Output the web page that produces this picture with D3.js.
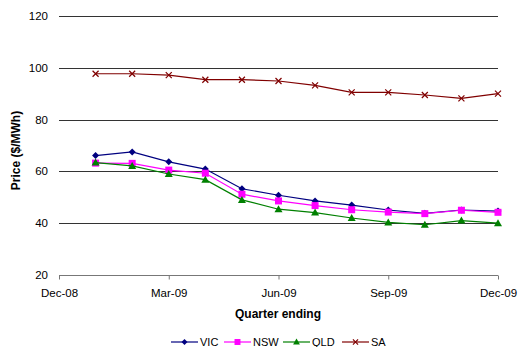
<!DOCTYPE html>
<html>
<head>
<meta charset="utf-8">
<script src="https://cdn.jsdelivr.net/npm/d3@7"></script>
<style>
  html, body { margin: 0; padding: 0; background: #fff; }
  svg { display: block; font-family: "Liberation Sans", Arial, sans-serif; }
</style>
</head>
<body>
<svg id="chart" width="519" height="347"></svg>
<script>
// Monthly wholesale prices, Jan-09 .. Dec-09 (month index 1..12 from Dec-08)
const months = [1, 2, 3, 4, 5, 6, 7, 8, 9, 10, 11, 12];
const vic = [66.1, 67.5, 63.7, 60.9, 53.3, 50.8, 48.6, 47.0, 45.1, 43.8, 45.1, 44.7];
const nsw = [63.2, 63.1, 60.5, 59.3, 51.2, 48.6, 46.8, 45.2, 44.3, 43.7, 45.0, 44.2];
const qld = [63.4, 62.1, 59.0, 56.8, 49.0, 45.4, 44.1, 42.0, 40.3, 39.4, 41.0, 40.0];
const sa  = [97.7, 97.7, 97.2, 95.4, 95.4, 94.9, 93.2, 90.5, 90.5, 89.5, 88.2, 90.0];

const xTickValues = [0, 3, 6, 9, 12];
const xTickLabels = ["Dec-08", "Mar-09", "Jun-09", "Sep-09", "Dec-09"];
const yTickValues = [20, 40, 60, 80, 100, 120];

const seriesNames = ["VIC", "NSW", "QLD", "SA"];
const seriesValues = [vic, nsw, qld, sa];
const seriesColors = ["#000080", "#ff00ff", "#008000", "#800000"];
const seriesMarkers = ["diamond", "square", "triangle", "cross"];

(function () {
const svg = d3.select("#chart");
const plotLeft = 59, plotRight = 498, plotTop = 16, plotBottom = 275;

const x = d3.scaleLinear().domain([0, 12]).range([plotLeft, plotRight]);
const y = d3.scaleLinear().domain([20, 120]).range([plotBottom, plotTop]);

// horizontal gridlines
svg.append("g")
  .selectAll("line")
  .data(yTickValues.filter(v => v > 20))
  .join("line")
  .attr("x1", plotLeft).attr("x2", plotRight)
  .attr("y1", d => Math.round(y(d)) + 0.5).attr("y2", d => Math.round(y(d)) + 0.5)
  .attr("stroke", "#333").attr("stroke-width", 1);

// y tick labels
svg.append("g")
  .selectAll("text")
  .data(yTickValues)
  .join("text")
  .attr("x", 48).attr("y", d => y(d) + 4)
  .attr("text-anchor", "end")
  .attr("font-size", 11.5).attr("fill", "#000")
  .text(d => d);

// x axis
const xAxis = d3.axisBottom(x)
  .tickValues(xTickValues)
  .tickFormat((d, i) => xTickLabels[i])
  .tickSize(4)
  .tickPadding(9);
const gx = svg.append("g")
  .attr("transform", `translate(0,${Math.round(y(20)) + 0.5})`)
  .call(xAxis);
gx.select(".domain").attr("stroke", "#777").attr("d", `M${plotLeft},0H${plotRight}`);
gx.selectAll(".tick line").attr("stroke", "#777");
gx.selectAll(".tick text")
  .attr("font-size", 11.5).attr("fill", "#000")
  .attr("font-family", "Liberation Sans, Arial, sans-serif");

// axis titles
svg.append("text")
  .attr("x", 278).attr("y", 317.5)
  .attr("text-anchor", "middle")
  .attr("font-size", 12).attr("font-weight", "bold")
  .text("Quarter ending");

svg.append("text")
  .attr("transform", `translate(20,${(plotTop + plotBottom) / 2 + 5}) rotate(-90)`)
  .attr("text-anchor", "middle")
  .attr("font-size", 12).attr("font-weight", "bold")
  .text("Price ($/MWh)");

// marker drawing
function drawMarker(g, type, color, s) {
  s = s || 1;
  if (type === "diamond") {
    g.append("path").attr("d", `M0,${-3.5*s}L${3.5*s},0L0,${3.5*s}L${-3.5*s},0Z`).attr("fill", color);
  } else if (type === "square") {
    g.append("rect").attr("x", -3.5*s).attr("y", -3.5*s).attr("width", 7*s).attr("height", 7*s).attr("fill", color);
  } else if (type === "triangle") {
    g.append("path").attr("d", `M0,${-4*s}L${4*s},${3*s}L${-4*s},${3*s}Z`).attr("fill", color);
  } else {
    g.append("path").attr("d", `M${-3*s},${-3*s}L${3*s},${3*s}M${-3*s},${3*s}L${3*s},${-3*s}`)
      .attr("stroke", color).attr("stroke-width", 1.2).attr("fill", "none");
  }
}

const line = d3.line().x(d => x(d[0])).y(d => y(d[1]));

// draw series (SA first, then the lower cluster)
const order = [3, 0, 1, 2];
order.forEach(i => {
  const pts = months.map((m, k) => [m, seriesValues[i][k]]);
  const g = svg.append("g");
  g.append("path").datum(pts)
    .attr("d", line).attr("fill", "none")
    .attr("stroke", seriesColors[i]).attr("stroke-width", 1.2);
  pts.forEach(p => {
    const mg = g.append("g").attr("transform", `translate(${x(p[0])},${y(p[1])})`);
    drawMarker(mg, seriesMarkers[i], seriesColors[i]);
  });
});

// legend
const legendX = [171, 224, 283, 342];
const legendY = 342;
seriesNames.forEach((name, i) => {
  const g = svg.append("g").attr("transform", `translate(${legendX[i]},${legendY})`);
  g.append("line").attr("x1", 0).attr("x2", 27).attr("y1", 0).attr("y2", 0)
    .attr("stroke", seriesColors[i]).attr("stroke-width", 1.2);
  const mg = g.append("g").attr("transform", "translate(13.5,0)");
  drawMarker(mg, seriesMarkers[i], seriesColors[i], 0.85);
  g.append("text").attr("x", 29).attr("y", 4)
    .attr("font-size", 11).attr("fill", "#000").text(name);
});
})();
</script>
</body>
</html>
